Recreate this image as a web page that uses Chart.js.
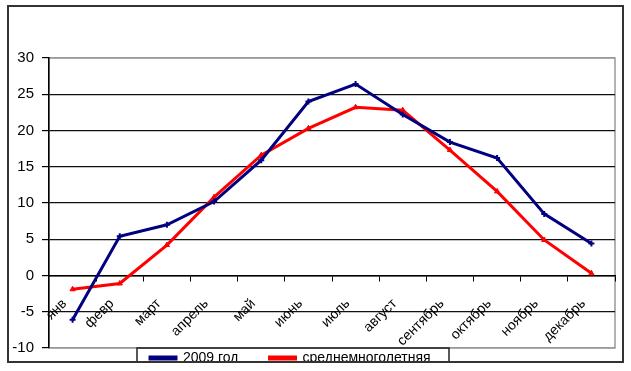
<!DOCTYPE html>
<html><head><meta charset="utf-8">
<script src="https://cdn.jsdelivr.net/npm/chart.js@4/dist/chart.umd.min.js"></script>
<style>html,body{margin:0;padding:0;background:#fff;overflow:hidden}#wrap{position:relative;width:631px;height:371px}</style>
</head><body><div id="wrap"><canvas id="c" width="631" height="371"></canvas></div>
<script>
const categories = ['янв','февр','март','апрель','май','июнь','июль','август','сентябрь','октябрь','ноябрь','декабрь'];
const series2009 = [-6.1, 5.4, 7.0, 10.2, 15.9, 24.0, 26.4, 22.2, 18.4, 16.2, 8.5, 4.4];
const seriesAvg = [-1.9, -1.1, 4.2, 10.8, 16.6, 20.3, 23.2, 22.8, 17.3, 11.6, 4.9, 0.3];
const seriesNames = ['2009 год', 'среднемноголетняя'];
const yMin = -10, yMax = 30, yStep = 5;

const FONT = "'Liberation Sans', Arial, sans-serif";

const framePlugin = {
  id: 'frame',
  beforeDraw(chart) {
    const ctx = chart.ctx, a = chart.chartArea;
    ctx.save();
    ctx.fillStyle = '#fff';
    ctx.fillRect(0, 0, chart.width, chart.height);
    ctx.strokeStyle = '#999';
    ctx.lineWidth = 1.5;
    ctx.strokeRect(a.left, a.top, a.right - a.left, a.bottom - a.top);
    ctx.restore();
  },
  afterLayout(chart) {
    const lg = chart.legend;
    if (!lg) return;
    const P = lg.options.labels.padding;
    lg.left = 150 - P; lg.width = 600; lg.right = lg.left + lg.width;
    lg.top = 351 - P; lg.bottom = 371; lg.height = lg.bottom - lg.top;
  },
  afterDraw(chart) {
    const ctx = chart.ctx;
    ctx.save();
    ctx.strokeStyle = '#222';
    ctx.lineWidth = 1.5;
    ctx.strokeRect(137, 348, 312, 20);
    ctx.fillStyle = '#fff';
    ctx.fillRect(0, 363, chart.width, chart.height - 363);
    ctx.strokeStyle = '#333';
    ctx.lineWidth = 2;
    ctx.strokeRect(8, 6, 615, 356);
    ctx.restore();
  }
};

new Chart(document.getElementById('c'), {
  type: 'line',
  data: {
    labels: categories,
    datasets: [
      { label: seriesNames[0], data: series2009, borderColor: '#000080', backgroundColor: '#000080',
        borderWidth: 3, pointStyle: 'cross', pointRadius: 3, pointBorderWidth: 2, tension: 0 },
      { label: seriesNames[1], data: seriesAvg, borderColor: '#ff0000', backgroundColor: '#ff0000',
        borderWidth: 3, pointStyle: 'triangle', pointRadius: 3, pointBorderWidth: 1, tension: 0 }
    ]
  },
  options: {
    responsive: false, animation: false, devicePixelRatio: 1,
    layout: { padding: { left: 0, top: 58, right: 16, bottom: 0 } },
    plugins: {
      tooltip: { enabled: false },
      legend: {
        position: 'bottom', fullSize: false, align: 'start', maxHeight: 23,
        labels: { boxWidth: 26, boxHeight: 2, padding: 31, color: '#000', font: { family: FONT, size: 14 } }
      }
    },
    scales: {
      x: {
        type: 'category', position: { y: 0 }, offset: true,
        afterFit(s) { s.height = 0; },
        grid: { display: true, drawOnChartArea: false, drawTicks: true, tickLength: 5, offset: true, color: '#000' },
        border: { display: true, color: '#000', width: 1.5 },
        ticks: { autoSkip: false, maxRotation: 45, minRotation: 45, padding: 15, labelOffset: -8, color: '#000', font: { family: FONT, size: 14 } }
      },
      y: {
        min: yMin, max: yMax,
        afterFit(s) { s.width = 49; },
        ticks: { stepSize: yStep, padding: 8, color: '#000', font: { family: FONT, size: 15 } },
        grid: { color: (c) => (c.tick && (c.tick.value === yMax || c.tick.value === yMin)) ? '#999' : '#111',
                lineWidth: 1.2, tickLength: 7, tickColor: '#000', tickWidth: 1.2 },
        border: { display: true, color: '#000', width: 1.5 }
      }
    }
  },
  plugins: [framePlugin]
});
</script></body></html>
